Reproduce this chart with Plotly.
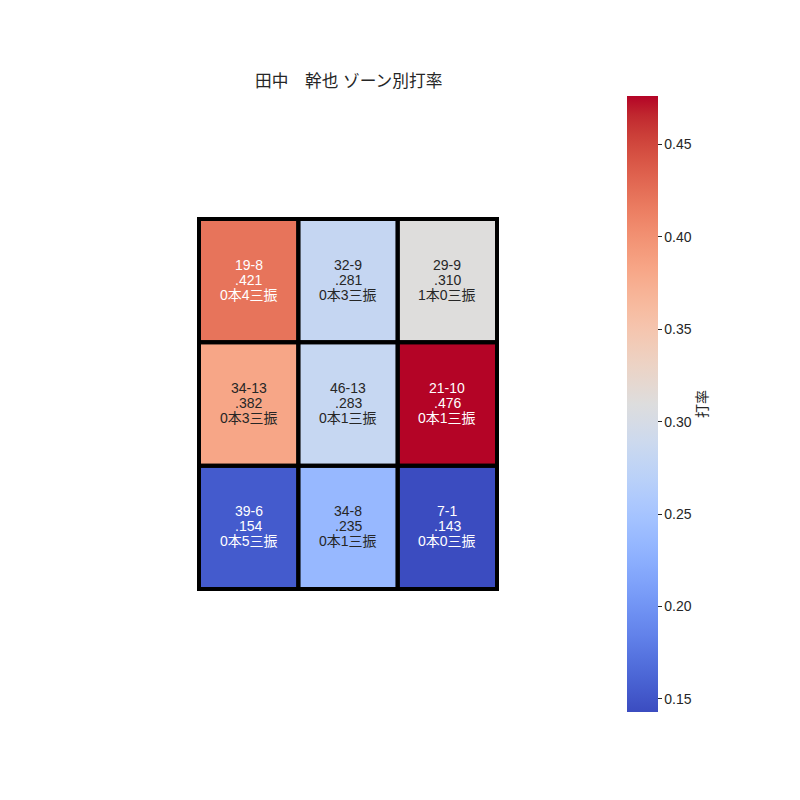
import plotly.graph_objects as go

# ゾーン別データ (上段 -> 下段, 左 -> 右)
at_bats = [[19, 32, 29], [34, 46, 21], [39, 34, 7]]
hits = [[8, 9, 9], [13, 13, 10], [6, 8, 1]]
homeruns = [[0, 0, 1], [0, 0, 0], [0, 0, 0]]
strikeouts = [[4, 3, 0], [3, 1, 1], [5, 1, 0]]
title_text = "田中　幹也 ゾーン別打率"
cbar_title = "打率"
cbar_ticks = [0.15, 0.20, 0.25, 0.30, 0.35, 0.40, 0.45]

# matplotlib coolwarm
coolwarm = [
    (59, 76, 192), (68, 90, 204), (77, 104, 215), (87, 117, 225), (98, 130, 234),
    (108, 142, 241), (119, 154, 247), (130, 165, 251), (141, 176, 254), (152, 185, 255),
    (163, 194, 255), (174, 201, 253), (184, 208, 249), (194, 213, 244), (204, 217, 238),
    (213, 219, 230), (221, 221, 221), (229, 216, 209), (236, 211, 197), (241, 204, 185),
    (245, 196, 173), (247, 187, 160), (247, 177, 148), (247, 166, 135), (244, 154, 123),
    (241, 141, 111), (236, 127, 99), (229, 112, 88), (222, 96, 77), (213, 80, 66),
    (203, 62, 56), (192, 40, 47), (180, 4, 38),
]
n = len(coolwarm) - 1
colorscale = [[i / n, "rgb(%d,%d,%d)" % c] for i, c in enumerate(coolwarm)]

avg = [[h / ab for h, ab in zip(hr_, ar_)] for hr_, ar_ in zip(hits, at_bats)]
vmin = min(min(r) for r in avg)
vmax = max(max(r) for r in avg)

nrows = len(avg)
ncols = len(avg[0])

# ページの body margin (8px) を差し引いて配置
W = 784
OFF = 8
def px(v):
    return (v - OFF) / W

FONT = "Liberation Sans, Noto Sans CJK JP"
DARK = "#262626"

# セル領域 (参照画像のピクセル) と外枠が切れないための余白
X0, X1, Y0, Y1 = 199, 497, 219, 589
LW = 4
padx = (LW / 2) / ((X1 - X0) / ncols)
pady = (LW / 2) / ((Y1 - Y0) / nrows)

fig = go.Figure()
fig.add_trace(go.Heatmap(
    z=avg, x=list(range(ncols)), y=list(range(nrows)),
    colorscale=colorscale, zmin=vmin, zmax=vmax,
    hoverinfo="skip",
    colorbar=dict(
        title=dict(text=cbar_title, side="right", font=dict(size=14, color=DARK)),
        thickness=31, thicknessmode="pixels",
        len=616, lenmode="pixels",
        x=px(627), xanchor="left", xpad=0,
        y=1 - px(404), yanchor="middle", ypad=0,
        outlinewidth=0, ticks="outside", ticklen=4, tickcolor=DARK,
        tickvals=cbar_ticks, tickformat=".2f",
        tickfont=dict(size=14, color=DARK),
    ),
))

for r in range(nrows):
    for c in range(ncols):
        v = avg[r][c]
        norm = (v - vmin) / (vmax - vmin)
        col = "white" if (norm < 0.2 or norm > 0.8) else DARK
        lines = ["%d-%d" % (at_bats[r][c], hits[r][c]),
                 ("%.3f" % v).lstrip("0"),
                 "%d本%d三振" % (homeruns[r][c], strikeouts[r][c])]
        for k, t in enumerate(lines):
            fig.add_annotation(x=c, y=r, text=t, showarrow=False, yshift=(1 - k) * 15 + 1,
                               font=dict(size=14, color=col))
        fig.add_shape(type="rect", x0=c - 0.5, x1=c + 0.5, y0=r - 0.5, y1=r + 0.5,
                      line=dict(color="black", width=LW), xref="x", yref="y")

fig.update_layout(
    width=W, height=W,
    margin=dict(l=0, r=0, t=0, b=0),
    paper_bgcolor="white", plot_bgcolor="white",
    font=dict(family=FONT, color=DARK),
    xaxis=dict(domain=[px(X0 - LW / 2), px(X1 + LW / 2)],
               range=[-0.5 - padx, ncols - 0.5 + padx],
               showgrid=False, zeroline=False, showticklabels=False, ticks=""),
    yaxis=dict(domain=[1 - px(Y1 + LW / 2), 1 - px(Y0 - LW / 2)],
               range=[nrows - 0.5 + pady, -0.5 - pady],
               showgrid=False, zeroline=False, showticklabels=False, ticks=""),
    showlegend=False,
)
fig.add_annotation(text=title_text, xref="paper", yref="paper",
                   x=px(348), y=1 - px(82), yanchor="middle", showarrow=False,
                   font=dict(size=16.7, color=DARK))

fig.write_html("out.html")
